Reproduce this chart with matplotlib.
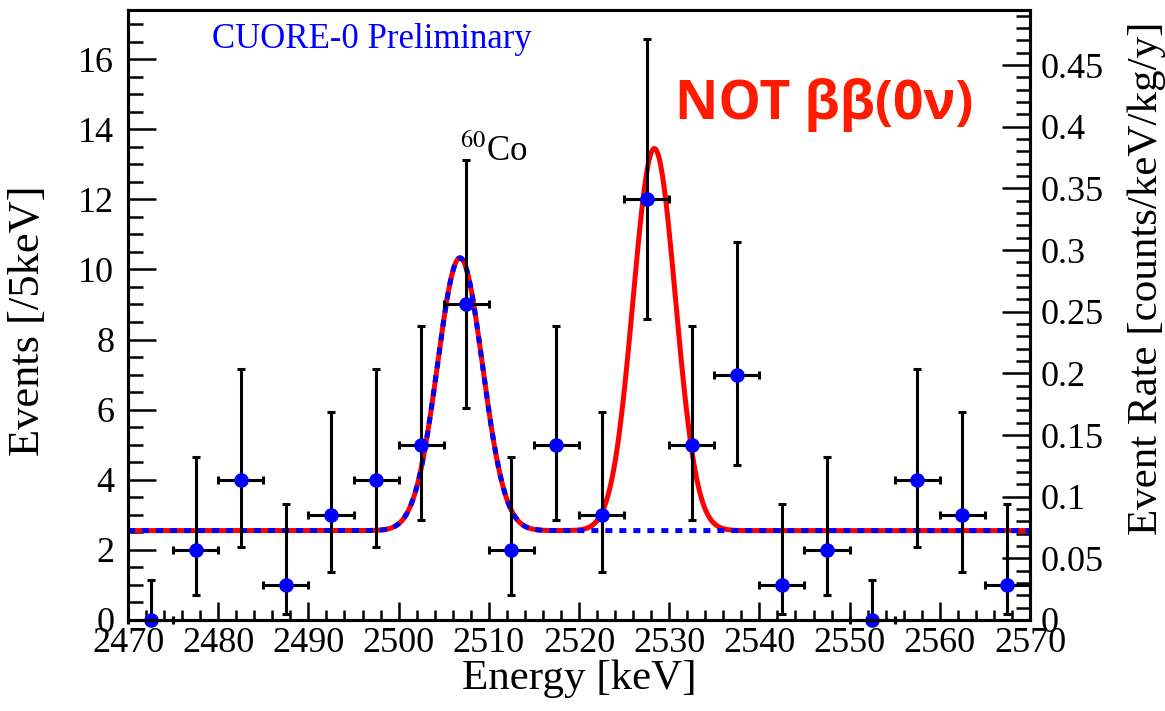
import matplotlib
matplotlib.use("Agg")
import matplotlib.pyplot as plt
import numpy as np
from matplotlib.ticker import MultipleLocator

plt.rcParams['font.family'] = ['Liberation Serif', 'DejaVu Serif']
plt.rcParams['mathtext.fontset'] = 'stix'

# binned data, 5 keV bins
energy = [2472.5, 2477.5, 2482.5, 2487.5, 2492.5, 2497.5, 2502.5, 2507.5, 2512.5, 2517.5,
          2522.5, 2527.5, 2532.5, 2537.5, 2542.5, 2547.5, 2552.5, 2557.5, 2562.5, 2567.5]
counts = [0, 2, 4, 1, 3, 4, 5, 9, 2, 5, 3, 12, 5, 7, 1, 2, 0, 4, 3, 1]
# poisson error bar bounds
err_low = [0, 0.71, 2.09, 0.17, 1.37, 2.09, 2.84, 6.06, 0.71, 2.84,
           1.37, 8.58, 2.84, 4.42, 0.17, 0.71, 0, 2.09, 1.37, 0.17]
err_high = [1.15, 4.64, 7.16, 3.30, 5.92, 7.16, 8.38, 13.11, 4.64, 8.38,
            5.92, 16.57, 8.38, 10.77, 3.30, 4.64, 1.15, 7.16, 5.92, 3.30]
bin_half = 2.5

# fit parameters (gaussian peaks on flat background)
baseline = 2.55
co_mu, co_sigma, co_amp = 2506.8, 2.5, 7.78
p2_mu, p2_sigma, p2_amp = 2528.35, 2.35, 10.9

rate_per_event = 0.02843  # right axis scale

def gauss(x, mu, s, a):
	return a*np.exp(-(x-mu)**2/(2*s*s))

x = np.linspace(2470, 2570, 1000)
bkg_co = baseline + gauss(x, co_mu, co_sigma, co_amp)
full = bkg_co + gauss(x, p2_mu, p2_sigma, p2_amp)

fig = plt.figure(figsize=(11.65, 7.11), dpi=100)
ax = fig.add_axes([0.1099, 0.128, 0.7742, 0.858])

ax.plot(x, full, color='#ff0000', lw=3.6, zorder=3)
ax.plot(x, bkg_co, color='#0000ff', lw=3.6, dashes=[1.4, 1.4], zorder=4)

yerr = [np.array(counts)-np.array(err_low), np.array(err_high)-np.array(counts)]
ax.errorbar(energy, counts, xerr=bin_half, yerr=yerr, fmt='o', color='#0000ff',
            ms=9.5, ecolor='black', elinewidth=2.2, capsize=3.2, capthick=2.2,
            zorder=5, clip_on=False)

ax.set_xlim(2470, 2570)
ax.set_ylim(0, 17.4)
ax.xaxis.set_major_locator(MultipleLocator(10))
ax.xaxis.set_minor_locator(MultipleLocator(2))
ax.yaxis.set_major_locator(MultipleLocator(2))
ax.yaxis.set_minor_locator(MultipleLocator(0.5))
ax.tick_params(axis='x', which='major', direction='in', length=13, width=1.8, labelsize=26, pad=5)
ax.tick_params(axis='x', which='minor', direction='in', length=7, width=1.8)
ax.tick_params(axis='y', which='major', direction='in', length=20, width=1.8, labelsize=26, pad=10)
ax.tick_params(axis='y', which='minor', direction='in', length=11, width=1.8)
for s in ax.spines.values():
	s.set_linewidth(2.2)

ax.set_xlabel("Energy [keV]", fontsize=31, labelpad=0)
ax.set_ylabel("Events [/5keV]", fontsize=32)
ax.yaxis.set_label_coords(-0.089, 0.49)

ax2 = ax.twinx()
ax2.set_ylim(0, 17.4*rate_per_event)
ax2.yaxis.set_major_locator(MultipleLocator(0.05))
ax2.yaxis.set_minor_locator(MultipleLocator(0.01))
ax2.tick_params(axis='y', which='major', direction='in', length=20, width=1.8, labelsize=26, pad=8)
ax2.tick_params(axis='y', which='minor', direction='in', length=10, width=1.8)
ax2.yaxis.set_major_formatter(plt.FuncFormatter(lambda v, p: ('%g' % round(v, 2))))
ax2.set_ylabel("Event Rate [counts/keV/kg/y]", fontsize=31)
ax2.yaxis.set_label_coords(1.108, 0.56)
for s in ax2.spines.values():
	s.set_linewidth(2.2)

ax.text(2479.3, 16.55, "CUORE-0 Preliminary", color='#0000ff', fontsize=25, va='center')
ax.text(2506.8, 12.85, r"$^{60}$Co", fontsize=25, va='bottom')
ax.text(2530.6, 14.7, "NOT \u03b2\u03b2(0\u03bd)", color='#ff1a00', fontsize=38.5,
        fontweight='bold', family=['Open Sans', 'DejaVu Sans'], va='center')

fig.savefig("out.png", dpi=100)
